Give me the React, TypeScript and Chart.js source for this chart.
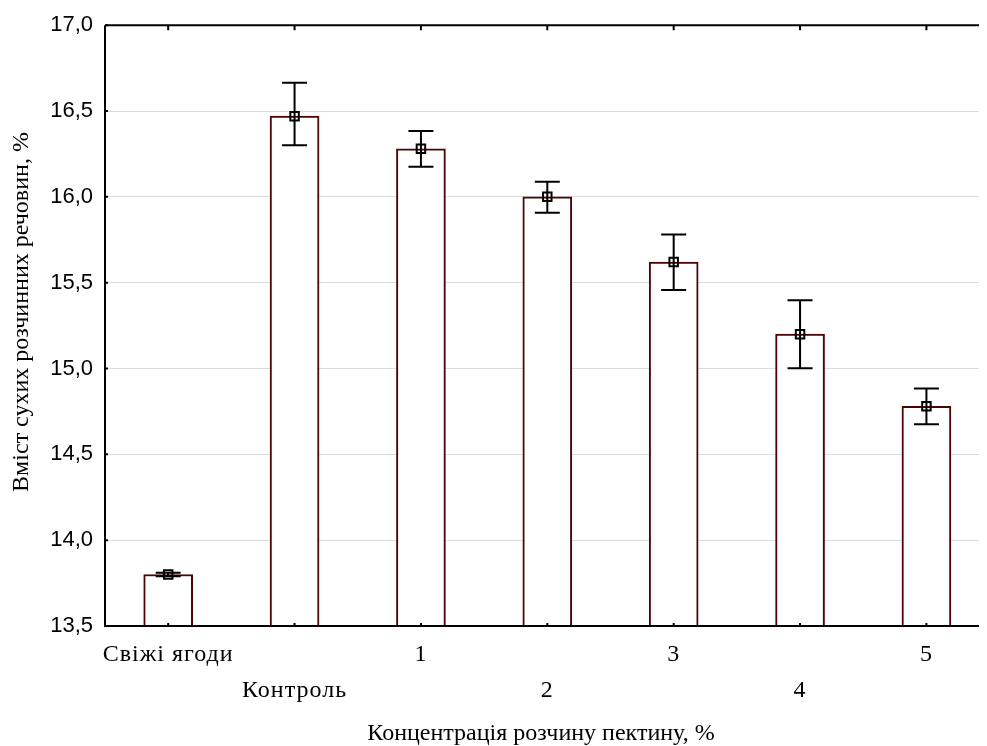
import React, { useEffect, useRef } from "react";
import { Chart, registerables } from "chart.js";

Chart.register(...registerables);

const categories = ["Свіжі ягоди", "Контроль", "1", "2", "3", "4", "5"];
const means = [13.8, 16.47, 16.28, 16.0, 15.62, 15.2, 14.78];
const errLow = [13.79, 16.3, 16.175, 15.908, 15.457, 15.002, 14.675];
const errHigh = [13.81, 16.665, 16.383, 16.088, 15.78, 15.397, 14.884];
const yTicks = [13.5, 14.0, 14.5, 15.0, 15.5, 16.0, 16.5, 17.0];
const xTitle = "Концентрація розчину пектину, %";
const yTitle = "Вміст сухих розчинних речовин, %";

const SERIF = "'Liberation Serif', 'Times New Roman', serif";
const SANS = "'Liberation Sans', Arial, sans-serif";

const overlay = {
  id: "overlay",
  afterDatasetDraw(chart: any, args: any) {
    if (args.index !== 0) return;
    const ctx = chart.ctx;
    const xs = chart.scales.x;
    const ys = chart.scales.y;
    ctx.save();
    ctx.strokeStyle = "#000";
    ctx.lineWidth = 2;
    for (let i = 0; i < means.length; i++) {
      const x = xs.getPixelForValue(i);
      const y1 = ys.getPixelForValue(errLow[i]);
      const y2 = ys.getPixelForValue(errHigh[i]);
      ctx.beginPath();
      ctx.moveTo(x, y1);
      ctx.lineTo(x, y2);
      ctx.moveTo(x - 12.5, y1);
      ctx.lineTo(x + 12.5, y1);
      ctx.moveTo(x - 12.5, y2);
      ctx.lineTo(x + 12.5, y2);
      ctx.stroke();
    }
    ctx.restore();
  },
  afterDraw(chart: any) {
    const ctx = chart.ctx;
    const xs = chart.scales.x;
    const ys = chart.scales.y;
    const a = chart.chartArea;
    ctx.save();
    ctx.strokeStyle = "#000";
    ctx.lineWidth = 2;
    ctx.beginPath();
    ctx.moveTo(a.left, a.top);
    ctx.lineTo(a.right, a.top);
    ctx.moveTo(a.left, a.top);
    ctx.lineTo(a.left, a.bottom);
    ctx.moveTo(a.left - 1, a.bottom);
    ctx.lineTo(a.right, a.bottom);
    ctx.stroke();
    ctx.beginPath();
    for (let i = 0; i < categories.length; i++) {
      const x = xs.getPixelForValue(i);
      ctx.moveTo(x, a.top);
      ctx.lineTo(x, a.top + 5);
      ctx.moveTo(x, a.bottom);
      ctx.lineTo(x, a.bottom - 3);
    }
    for (const t of yTicks) {
      const y = ys.getPixelForValue(t);
      ctx.moveTo(a.left, y);
      ctx.lineTo(a.left + 3, y);
    }
    ctx.stroke();
    ctx.fillStyle = "#000";
    ctx.font = `24px ${SERIF}`;
    ctx.textAlign = "center";
    ctx.textBaseline = "alphabetic";
    try { (ctx as any).letterSpacing = "1px"; } catch (e) {}
    for (let i = 0; i < categories.length; i++) {
      const x = xs.getPixelForValue(i);
      const y = i % 2 === 0 ? a.bottom + 35 : a.bottom + 71;
      ctx.fillText(categories[i], x, y);
    }
    try { (ctx as any).letterSpacing = "0px"; } catch (e) {}
    ctx.fillText(xTitle, 541, 740);
    ctx.textBaseline = "middle";
    ctx.translate(22, 312);
    ctx.rotate(-Math.PI / 2);
    ctx.fillText(yTitle, 0, 0);
    ctx.restore();
  },
};

export default function App() {
  const ref = useRef<HTMLCanvasElement>(null);
  useEffect(() => {
    if (!ref.current) return;
    const chart = new Chart(ref.current, {
      type: "bar",
      data: {
        datasets: [
          {
            type: "bar",
            data: means.map((v, i) => ({ x: i, y: v })),
            backgroundColor: "#ffffff",
            borderColor: "#4a0404",
            borderWidth: 2,
            barThickness: 49,
            order: 1,
          } as any,
          {
            type: "line",
            data: means.map((v, i) => ({ x: i, y: v })),
            showLine: false,
            pointStyle: "rect",
            pointRadius: 6,
            borderColor: "#000",
            borderWidth: 2,
            backgroundColor: "rgba(0,0,0,0)",
            order: 0,
          } as any,
        ],
      },
      options: {
        animation: false,
        responsive: true,
        maintainAspectRatio: false,
        layout: { padding: { left: 0, top: 20, right: 0, bottom: 120 } },
        plugins: { legend: { display: false }, tooltip: { enabled: false } },
        scales: {
          x: {
            type: "linear",
            offset: false,
            min: -0.5,
            max: 6.416,
            ticks: { display: false },
            grid: { display: false },
            border: { display: false },
            afterFit: (s: any) => {
              s.height = 0;
            },
          },
          y: {
            min: 13.5,
            max: 17,
            ticks: {
              stepSize: 0.5,
              padding: 12,
              color: "#000",
              font: { family: SANS, size: 22 },
              callback: (v: any) => Number(v).toFixed(1).replace(".", ","),
            },
            grid: { color: "#dcdcdc", lineWidth: 1, drawTicks: false },
            border: { display: false },
            afterFit: (s: any) => {
              s.width = 105;
            },
          },
        },
      },
      plugins: [overlay],
    });
    return () => chart.destroy();
  }, []);
  return (
    <div style={{ position: "fixed", left: 0, top: 0, width: 987, height: 746, background: "#fff" }}>
      <canvas ref={ref} />
    </div>
  );
}
